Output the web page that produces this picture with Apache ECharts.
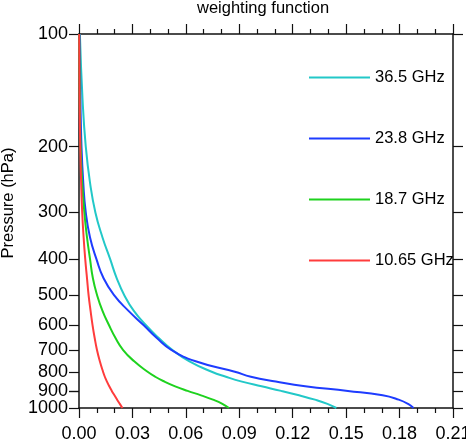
<!DOCTYPE html>
<html>
<head>
<meta charset="utf-8">
<script src="https://cdn.jsdelivr.net/npm/echarts@6/dist/echarts.min.js"></script>
<style>
  html, body { margin: 0; padding: 0; background: #fff; }
  #main { width: 466px; height: 442px; }
</style>
</head>
<body>
<div id="main"></div>
<script>
// pressure levels (hPa) and weighting function per channel
var pressure = [100, 150, 200, 250, 300, 350, 400, 450, 500, 550, 600, 650, 700, 750, 800, 825, 850, 875, 900, 925, 950, 975, 1000];
var wf365 = [0.0005, 0.002, 0.0038, 0.0062, 0.0092, 0.0132, 0.0175, 0.0212, 0.0255, 0.0308, 0.0375, 0.0448, 0.0525, 0.062, 0.0745, 0.0825, 0.0915, 0.1025, 0.1135, 0.1235, 0.1325, 0.1395, 0.1445];
var wf238 = [0.0003, 0.0008, 0.0014, 0.0024, 0.0038, 0.0062, 0.0098, 0.0138, 0.0198, 0.0278, 0.0362, 0.0437, 0.052, 0.0655, 0.0875, 0.0965, 0.1105, 0.127, 0.151, 0.1705, 0.1795, 0.1848, 0.1878];
var wf187 = [0.0001, 0.0004, 0.0009, 0.0018, 0.003, 0.0045, 0.0062, 0.0078, 0.0102, 0.0132, 0.0168, 0.0205, 0.0248, 0.031, 0.0385, 0.0428, 0.048, 0.054, 0.061, 0.0685, 0.0752, 0.0805, 0.0842];
var wf1065 = [0.0001, 0.0003, 0.0007, 0.0012, 0.0018, 0.0026, 0.0035, 0.0045, 0.0054, 0.0065, 0.0076, 0.0088, 0.0101, 0.0117, 0.0135, 0.0145, 0.0157, 0.017, 0.0184, 0.0199, 0.0214, 0.0229, 0.0244];

var channels = ['36.5 GHz', '23.8 GHz', '18.7 GHz', '10.65 GHz'];
var colors = ['#22c8c8', '#1e3cff', '#1ed21e', '#ff3c3c'];
var pTicks = [100, 200, 300, 400, 500, 600, 700, 800, 900, 1000];
// 900 and 1000 sit so close that echarts drops one of them, so 900 gets its own axis
var pLabels = [100, 200, 300, 400, 500, 600, 700, 800, 1000];
var pLabelsExtra = [900];

var font = 'Liberation Sans, Arial, Helvetica, sans-serif';
var axisColor = '#111';

function pairs(vals) {
  return pressure.map(function (p, i) { return [vals[i], p]; });
}

function ext(base, over) {
  return echarts.util.merge(echarts.util.clone(base), over, true);
}

var myChart = echarts.init(document.getElementById('main'));

var xCommon = {
  type: 'value',
  min: 0,
  max: 0.21,
  interval: 0.03,
  splitLine: { show: false },
  axisLine: { show: true, onZero: false, lineStyle: { color: axisColor, width: 1.5 } },
  axisTick: { show: true, inside: false, length: 10, lineStyle: { color: axisColor, width: 1.2 } },
  minorTick: { show: true, splitNumber: 3, length: 5, lineStyle: { color: axisColor, width: 1.2 } }
};

// log10(1000) is not exact in floating point, so the top end is nudged a hair past 1000
var yCommon = {
  type: 'log',
  min: 100,
  max: 1000.01,
  inverse: true,
  splitLine: { show: false },
  axisLine: { show: true, onZero: false, lineStyle: { color: axisColor, width: 1.5 } },
  axisTick: { show: true, inside: false, length: 10, customValues: pTicks, lineStyle: { color: axisColor, width: 1.2 } }
};

var yLabel = {
  margin: 11,
  fontFamily: font,
  fontSize: 18,
  lineHeight: 14,
  color: '#000',
  showMinLabel: true,
  showMaxLabel: true,
  hideOverlap: false,
  formatter: function (v) { return String(Math.round(v)); }
};

var option = {
  animation: false,
  color: colors,
  title: {
    text: 'weighting function',
    left: 197,
    top: 0,
    padding: 0,
    textStyle: { fontFamily: font, fontSize: 16.5, fontWeight: 'normal', color: '#000' }
  },
  legend: {
    orient: 'vertical',
    left: 309,
    top: 69,
    padding: 0,
    icon: 'rect',
    itemWidth: 61,
    itemHeight: 2,
    itemGap: 44,
    data: channels,
    textStyle: { fontFamily: font, fontSize: 16.5, color: '#000', lineHeight: 16 }
  },
  grid: { left: 79, right: 13, top: 34, bottom: 34, containLabel: false, outerBoundsMode: 'none' },
  xAxis: [
    ext(xCommon, {
      position: 'bottom',
      axisLabel: {
        margin: 17,
        fontFamily: font,
        fontSize: 18,
        color: '#000',
        showMinLabel: true,
        showMaxLabel: true,
        hideOverlap: false,
        formatter: function (v) { return v.toFixed(2); }
      }
    }),
    ext(xCommon, {
      position: 'top',
      axisLabel: { show: false }
    })
  ],
  yAxis: [
    ext(yCommon, {
      position: 'left',
      name: 'Pressure (hPa)',
      nameLocation: 'middle',
      nameGap: 56,
      nameTextStyle: { fontFamily: font, fontSize: 16.5, color: '#000', padding: [0, 0, 0, 36] },
      axisLabel: ext(yLabel, { customValues: pLabels })
    }),
    ext(yCommon, {
      position: 'right',
      axisLabel: { show: false, customValues: pTicks }
    }),
    ext(yCommon, {
      position: 'left',
      axisLine: { show: false },
      axisTick: { customValues: pLabelsExtra },
      axisLabel: ext(yLabel, { customValues: pLabelsExtra })
    })
  ],
  series: [wf365, wf238, wf187, wf1065].map(function (vals, i) {
    return {
      name: channels[i],
      type: 'line',
      data: pairs(vals),
      symbol: 'none',
      smooth: 0.5,
      lineStyle: { width: 2, color: colors[i] },
      itemStyle: { color: colors[i] }
    };
  })
};

myChart.setOption(option);
</script>
</body>
</html>
